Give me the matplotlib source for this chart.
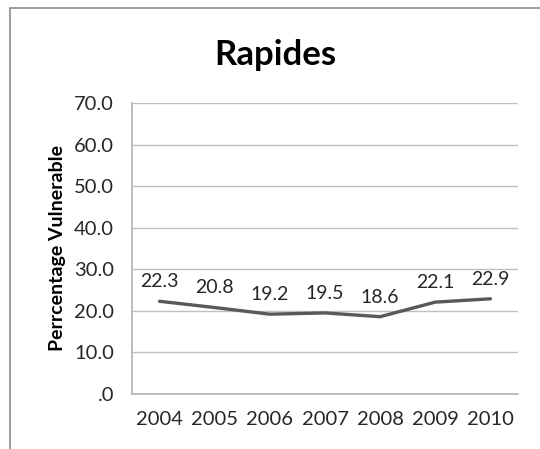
import matplotlib.pyplot as plt
from matplotlib.patches import Rectangle

years = ['2004', '2005', '2006', '2007', '2008', '2009', '2010']
vulnerable = [22.3, 20.8, 19.2, 19.5, 18.6, 22.1, 22.9]
yticks = [0, 10, 20, 30, 40, 50, 60, 70]
ytick_labels = ['.0', '10.0', '20.0', '30.0', '40.0', '50.0', '60.0', '70.0']

plt.rcParams['font.family'] = ['Lato', 'DejaVu Sans']

fig = plt.figure(figsize=(5.4, 4.49), dpi=100)
ax = fig.add_axes([0.2444, 0.1225, 0.7149, 0.6481])

# chart frame, runs off the right and bottom edge
fig.patches.append(Rectangle((10 / 540, -0.1), 1.2, 1 - 8 / 449 + 0.1,
                             transform=fig.transFigure, fill=False,
                             edgecolor='#8c8c8c', linewidth=1.2))

x = list(range(len(years)))
ax.plot(x, vulnerable, color='#595959', linewidth=2.4, solid_capstyle='round')
for xi, v in zip(x, vulnerable):
    ax.annotate('%.1f' % v, (xi, v), xytext=(0, 8), textcoords='offset points',
                ha='center', va='bottom', fontsize=14, color='#262626')

ax.set_xlim(-0.5, len(years) - 0.5)
ax.set_ylim(0, 70)
ax.set_xticks(x)
ax.set_xticklabels(years)
ax.set_yticks(yticks)
ax.set_yticklabels(ytick_labels)
ax.tick_params(length=0, labelsize=14.5, colors='#262626')
ax.tick_params(axis='y', pad=13)
ax.tick_params(axis='x', pad=12)
ax.grid(axis='y', color='#bfbfbf', linewidth=1)
ax.set_axisbelow(True)
for s in ['top', 'right']:
    ax.spines[s].set_visible(False)
for s in ['left', 'bottom']:
    ax.spines[s].set_color('#b0b0b0')
    ax.spines[s].set_linewidth(1.2)

ax.set_ylabel('Perrcentage Vulnerable', fontsize=14, fontweight='bold', labelpad=6)
fig.text(275 / 540, 1 - 55 / 449, 'Rapides', ha='center', va='center',
         fontsize=25, fontweight='bold')

fig.savefig('out.png', dpi=100)
